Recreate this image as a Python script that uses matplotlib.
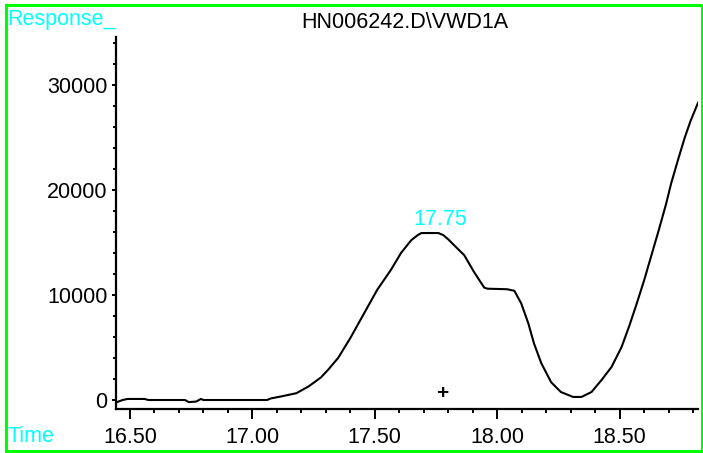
import matplotlib
matplotlib.use("Agg")
import matplotlib.pyplot as plt
from matplotlib.patches import Rectangle
from matplotlib.ticker import MultipleLocator, FixedLocator

plt.rcParams['font.family'] = ['Liberation Sans', 'DejaVu Sans']

title = "HN006242.D\\VWD1A"
y_label = "Response_"
x_label = "Time"
peak_label = "17.75"
peak_time = 17.766
peak_label_y = 17200
marker_time = 17.775
marker_y = 580

times = [16.445, 16.447, 16.47, 16.49, 16.56, 16.575, 16.725, 16.74, 16.77, 16.79,
         16.80, 17.06, 17.075, 17.12, 17.18, 17.23, 17.28, 17.31, 17.35, 17.40, 17.455,
         17.51, 17.566, 17.607, 17.648, 17.675, 17.69, 17.76, 17.78, 17.80, 17.83,
         17.865, 17.905, 17.947, 17.96, 18.04, 18.07, 18.098, 18.127, 18.15, 18.18,
         18.22, 18.26, 18.31, 18.344, 18.385, 18.426, 18.467, 18.508, 18.54, 18.57,
         18.60, 18.63, 18.66, 18.69, 18.71, 18.74, 18.766, 18.79, 18.82]
response = [-200, -200, 0, 100, 100, 0, 0, -200, -150, 100,
            0, 0, 150, 350, 650, 1300, 2150, 2900, 4000, 5900, 8200,
            10500, 12400, 14000, 15200, 15700, 15900, 15900, 15700, 15300, 14600,
            13800, 12200, 10700, 10600, 10550, 10400, 9200, 7300, 5400, 3500,
            1700, 760, 290, 290, 760, 1900, 3150, 5050, 7100, 9200,
            11400, 13800, 16200, 18700, 20600, 23000, 25000, 26600, 28300]

x_major = [16.5, 17.0, 17.5, 18.0, 18.5]
x_major_labels = ["16.50", "17.00", "17.50", "18.00", "18.50"]
y_major = [0, 10000, 20000, 30000]
y_major_labels = ["0", "10000", "20000", "30000"]

W, H = 703, 453
fig = plt.figure(figsize=(W / 100, H / 100), dpi=100)
ax = fig.add_axes([116 / W, 1 - 409 / H, (698 - 116) / W, (409 - 37) / H])

ax.plot(times, response, color='black', lw=1.5)
ax.set_xlim(16.443, 18.82)
ax.set_ylim(-857, 34571)

for s in ['top', 'right']:
    ax.spines[s].set_visible(False)
for s in ['left', 'bottom']:
    ax.spines[s].set_linewidth(1.6)

ax.xaxis.set_major_locator(FixedLocator(x_major))
ax.set_xticklabels(x_major_labels)
ax.xaxis.set_minor_locator(MultipleLocator(0.1))
ax.yaxis.set_major_locator(FixedLocator(y_major))
ax.set_yticklabels(y_major_labels)
ax.yaxis.set_minor_locator(MultipleLocator(2000))

ax.tick_params(axis='x', which='major', length=7, width=1.4, labelsize=15.5, pad=6)
ax.tick_params(axis='x', which='minor', length=3, width=1.4)
ax.tick_params(axis='y', which='major', length=3, width=1.4, labelsize=15.5, pad=3)
ax.tick_params(axis='y', which='minor', length=2, width=1.4)

ax.text(peak_time, peak_label_y, peak_label, color='#00FFFF', fontsize=15.5,
        ha='center', va='center')
ax.text(marker_time, marker_y, "+", color='black', fontsize=15, fontweight='bold',
        ha='center', va='center')

fig.text(405 / W, 1 - 22 / H, title, fontsize=15.5, ha='center', va='center')
fig.text(7 / W, 1 - 20 / H, y_label, color='#00FFFF', fontsize=15.5, ha='left', va='center')
fig.text(7 / W, 1 - 437 / H, x_label, color='#00FFFF', fontsize=15.5, ha='left', va='center')

fig.patches.append(Rectangle((6 / W, 1 - 451 / H), (702 - 6) / W, (451 - 4.5) / H,
                             transform=fig.transFigure, fill=False,
                             edgecolor='#00FF00', lw=2.2))

fig.savefig("out.png", dpi=100)
